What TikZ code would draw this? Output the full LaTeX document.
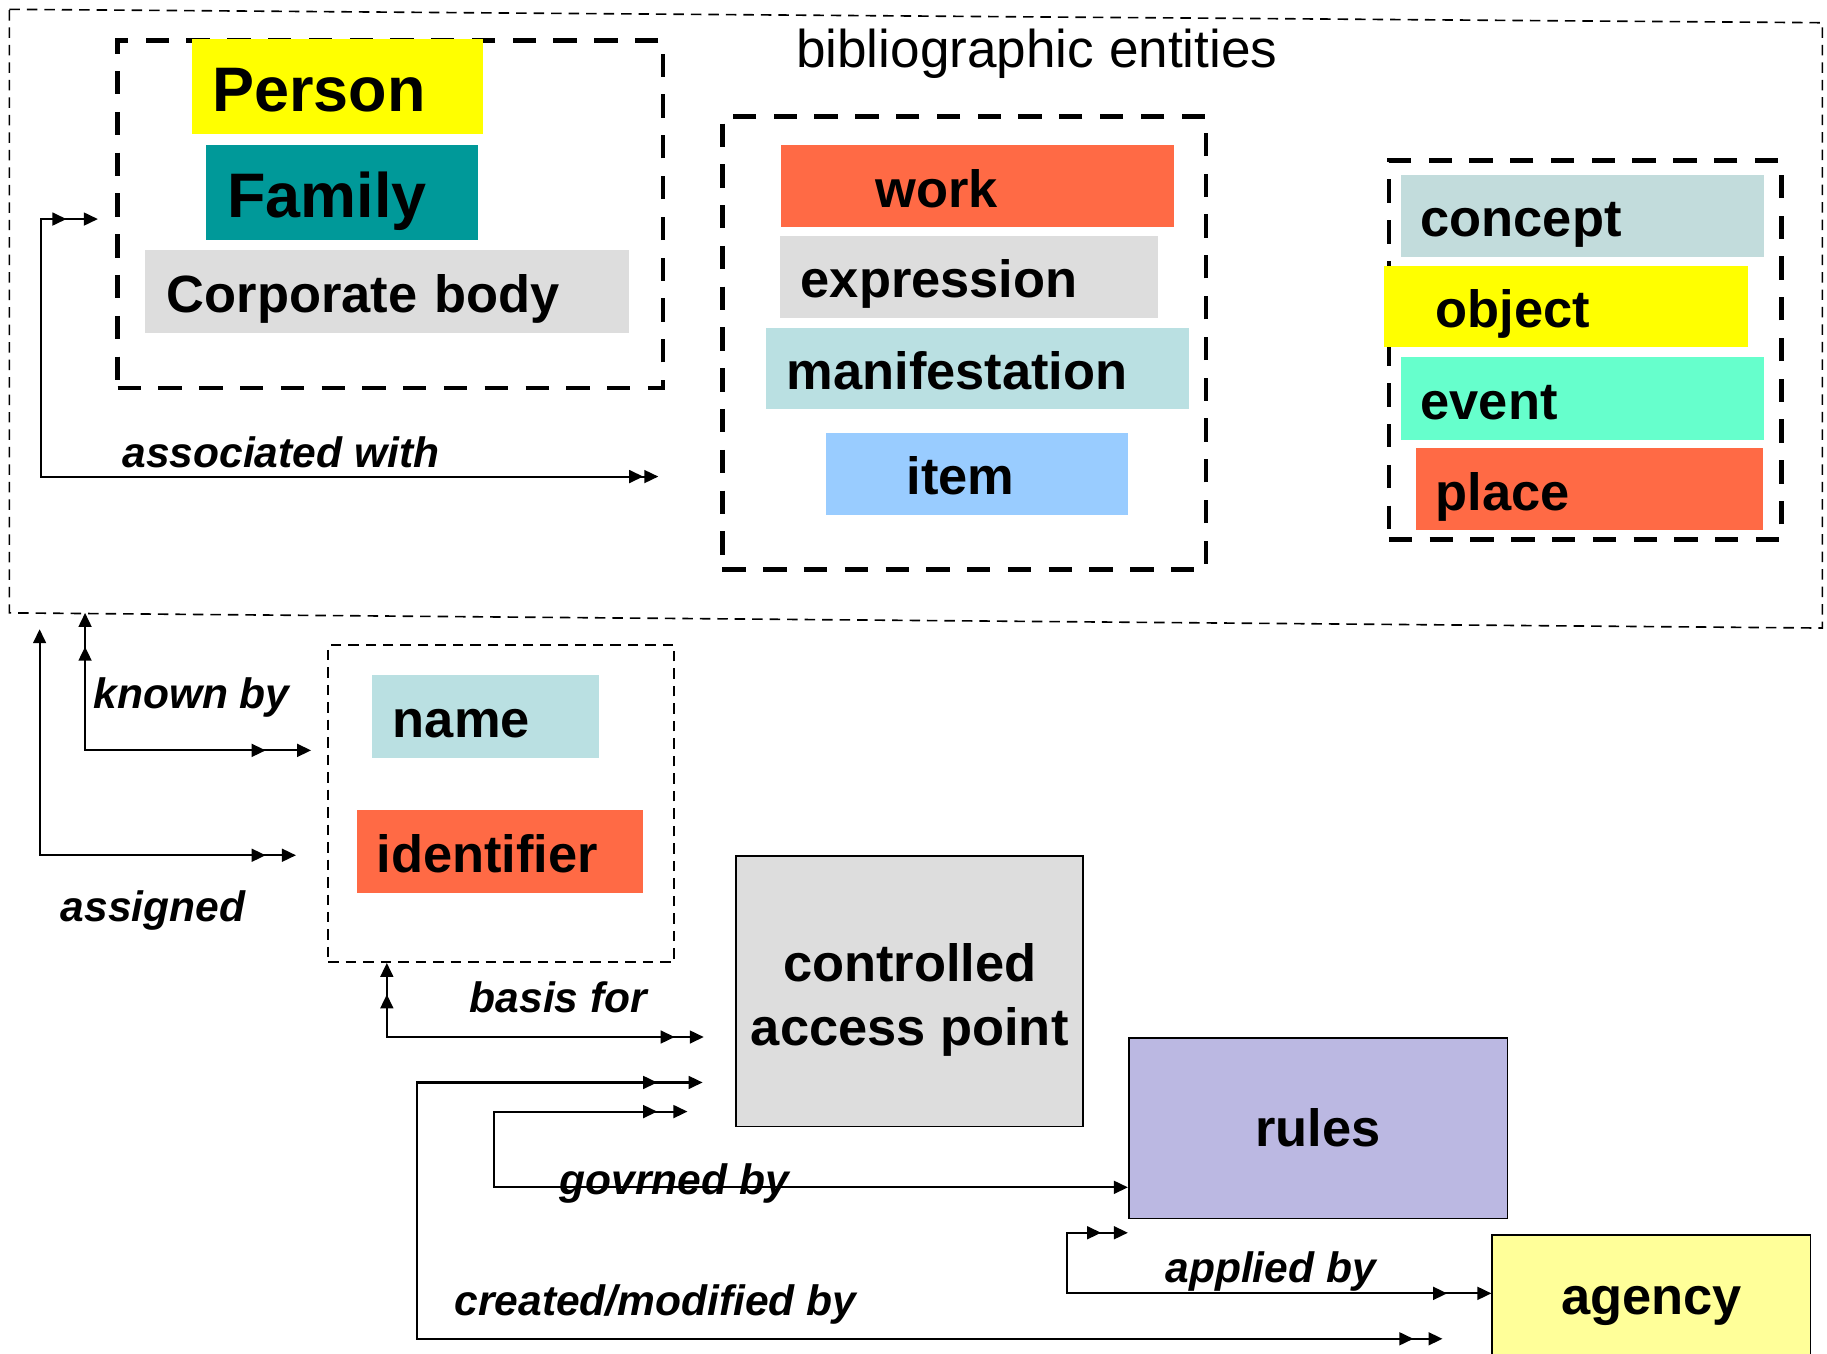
\documentclass[tikz,border=0pt]{standalone}
\usepackage{fontspec}
\setmainfont{Liberation Sans}
\usetikzlibrary{arrows.meta,decorations.markings}
\definecolor{cyel}{HTML}{FFFF00}
\definecolor{cteal}{HTML}{009999}
\definecolor{cgray}{HTML}{DDDDDD}
\definecolor{corange}{HTML}{FF6A45}
\definecolor{ccyan}{HTML}{BAE0E2}
\definecolor{cconcept}{HTML}{C2DCDC}
\definecolor{citem}{HTML}{99CCFF}
\definecolor{cevent}{HTML}{66FFCC}
\definecolor{crules}{HTML}{BBB8E2}
\definecolor{cagency}{HTML}{FFFF99}
\begin{document}
\begin{tikzpicture}[x=1pt,y=-1pt,
  ent/.style={anchor=north west, inner sep=0pt, align=left, text height=36pt, text depth=0pt, font=\fontsize{45}{50}\selectfont\bfseries},
  big/.style={font=\fontsize{54}{60}\selectfont\bfseries, text height=43pt},
  grpbox/.style={draw, line width=4pt, dash pattern=on 20pt off 15pt, anchor=north west, inner sep=0pt},
  thinbox/.style={draw, line width=1.4pt, dash pattern=on 9pt off 6pt},
  lab/.style={anchor=base west, inner sep=0pt, font=\fontsize{36.5}{40}\selectfont\bfseries\itshape},
  solidbox/.style={draw, line width=1.5pt, anchor=north west, inner sep=0pt, align=center, font=\fontsize{45}{55}\selectfont\bfseries},
  conn/.style={line width=1.8pt, line cap=rect, -{Triangle[length=12pt,width=11pt]}},
  dbl/.style={conn, postaction={decorate, decoration={markings, mark=at position -#1pt with {\arrow{Triangle[length=12pt,width=11pt]}}}}}
]
\useasboundingbox (0,0) rectangle (1568,1162);

% outer region: bibliographic entities
\coordinate (bibNW) at (8,8);
\coordinate (bibNE) at (1564,19.5);
\coordinate (bibSE) at (1564,539);
\coordinate (bibSW) at (8,526);
\draw[thinbox] (bibNW) -- (bibNE) -- (bibSE) -- (bibSW) -- cycle;
\node[anchor=base west, inner sep=0pt, font=\fontsize{45.6}{50}\selectfont] (title) at (683,58) {bibliographic entities};

% group boxes
\node[grpbox, minimum width=468pt, minimum height=298pt] (agents) at (99,33) {};
\node[grpbox, minimum width=415pt, minimum height=389pt] (wemi) at (618,98) {};
\node[grpbox, minimum width=337pt, minimum height=325pt] (subjects) at (1190,136) {};
\node[thinbox, anchor=north west, inner sep=0pt, minimum width=297pt, minimum height=272pt] (appell) at (281,553) {};

% agents
\node[ent, big, fill=cyel, text width=249pt, minimum height=82pt] (person) at (165,33) {\hspace*{17pt}Person};
\node[ent, big, fill=cteal, text width=233pt, minimum height=82pt] (family) at (177,124) {\hspace*{18pt}Family};
\node[ent, fill=cgray, text width=416pt, minimum height=72pt] (corp) at (124,214) {\hspace*{19pt}Corporate body};

% WEMI
\node[ent, fill=corange, text width=337pt, minimum height=71pt] (work) at (670,124) {\hspace*{81pt}work};
\node[ent, fill=cgray, text width=325pt, minimum height=71pt] (expr) at (669,202) {\hspace*{18pt}expression};
\node[ent, fill=ccyan, text width=363pt, minimum height=70pt] (manif) at (657,281) {\hspace*{18pt}manifestation};
\node[ent, fill=citem, text width=259pt, minimum height=71pt] (item) at (709,371) {\hspace*{69pt}item};

% subjects
\node[ent, fill=cconcept, text width=312pt, minimum height=70pt] (concept) at (1202,150) {\hspace*{17pt}concept};
\node[ent, fill=cyel, text width=312pt, minimum height=70pt] (object) at (1188,228) {\hspace*{44pt}object};
\node[ent, fill=cevent, text width=312pt, minimum height=71pt] (event) at (1202,306) {\hspace*{17pt}event};
\node[ent, fill=corange, text width=298pt, minimum height=71pt] (place) at (1215,384) {\hspace*{17pt}place};

% appellations
\node[ent, fill=ccyan, text width=195pt, minimum height=71pt] (name) at (319,579) {\hspace*{18pt}name};
\node[ent, fill=corange, text width=246pt, minimum height=71pt] (ident) at (306,695) {\hspace*{17pt}identifier};

% lower boxes
\node[solidbox, fill=cgray, minimum width=298pt, minimum height=232pt] (cap) at (631,734) {\rule{0pt}{47pt}controlled\\access point};
\node[solidbox, fill=crules, minimum width=325pt, minimum height=155pt] (rules) at (968,890) {rules};
\node[solidbox, fill=cagency, minimum width=273pt, minimum height=112pt] (agency) at (1280,1059) {\rule{0pt}{35pt}agency};

% connectors
\coordinate (awC) at (35,409);
\coordinate (awUp) at (84,188);
\coordinate (awEnd) at (565,409);
\draw[dbl=13] (awC) -- (awEnd);
\draw[dbl=27] (awC) |- (awUp);

\coordinate (kbC) at (73,644);
\coordinate (kbTop) at (73,526);
\coordinate (kbEnd) at (267,644);
\draw[dbl=29] (kbC) -- (kbTop);
\draw[dbl=39] (kbC) -- (kbEnd);

\coordinate (asC) at (34,734);
\coordinate (asTop) at (34,540);
\coordinate (asEnd) at (254,734);
\draw[conn] (asC) -- (asTop);
\draw[dbl=26] (asC) -- (asEnd);

\coordinate (bfC) at (332,890);
\coordinate (bfEnd) at (604,890);
\draw[dbl=27] (bfC) -- (bfC |- appell.south);
\draw[dbl=25] (bfC) -- (bfEnd);

\coordinate (cmC) at (358,929);
\coordinate (cmTop) at (603,929);
\coordinate (cmEnd) at (1238,1149);
\draw[dbl=39] (cmC) -- (cmTop);
\draw[dbl=25] (cmC) |- (cmEnd);

\coordinate (gbC) at (424,954);
\coordinate (gbTop) at (590,954);
\coordinate (gbEnd) at (968,1019);
\draw[dbl=26] (gbC) -- (gbTop);
\draw[conn] (gbC) |- (rules.west |- gbEnd);

\coordinate (abC) at (916,1110);
\coordinate (abTop) at (968,1058);
\draw[dbl=23] (abC) |- (abTop);
\draw[dbl=38] (abC) -- (agency.west |- abC);

% labels
\node[lab] (lassoc) at (105,401) {associated with};
\node[lab] (lknown) at (80,608) {known by};
\node[lab] (lassig) at (52,791) {assigned};
\node[lab] (lbasis) at (403,869) {basis for};
\node[lab] (lgov) at (480,1025) {govrned by};
\node[lab] (lapp) at (1000,1101) {applied by};
\node[lab] (lcre) at (390,1129) {created/modified by};
\end{tikzpicture}
\end{document}
